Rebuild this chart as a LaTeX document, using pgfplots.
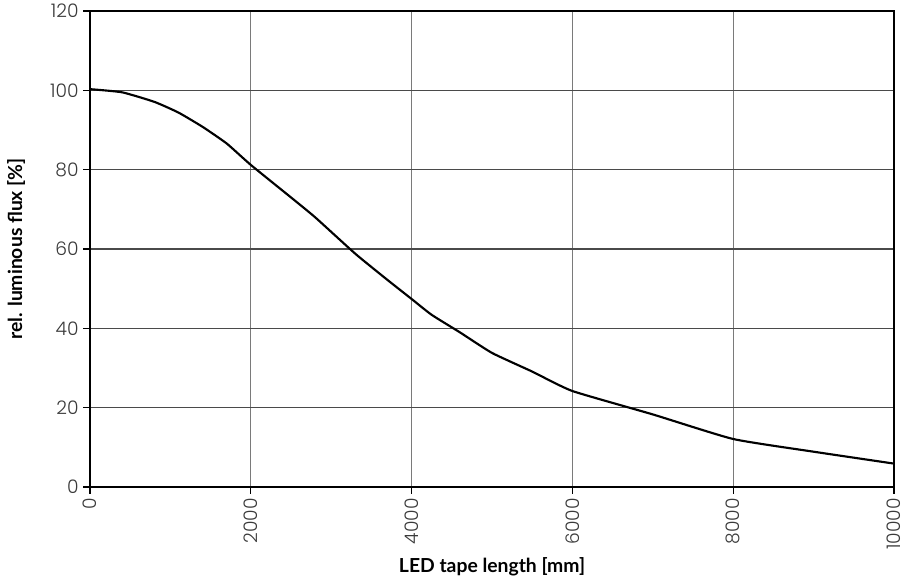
\documentclass[border=0pt]{standalone}
\usepackage{fontspec}
\setmainfont{Lato}
\newfontfamily\tickfont{Poppins Light}
\usepackage{pgfplots}
\pgfplotsset{compat=1.18}
\usetikzlibrary{calc}
\definecolor{xgrid}{HTML}{7A7A7A}
\definecolor{ygrid}{HTML}{4A4A4A}
\definecolor{ticktext}{HTML}{3A3A3A}
\begin{document}
\begin{tikzpicture}
\begin{axis}[
    scale only axis,
    width=603pt, height=357pt,
    xmin=0, xmax=10000, ymin=0, ymax=120,
    xtick={0,2000,...,10000},
    ytick={0,20,...,120},
    xtick pos=bottom, ytick pos=left,
    grid=major,
    x grid style={xgrid, line width=0.8pt},
    y grid style={ygrid, line width=0.8pt},
    axis line style={black, line width=0.9pt},
    tick style={black, line width=0.8pt},
    tick align=outside,
    major tick length=5pt,
    xticklabel style={rotate=90, anchor=east, font=\tickfont\fontsize{14}{16}\selectfont, text=ticktext},
    yticklabel style={font=\tickfont\fontsize{14}{16}\selectfont, text=ticktext},
    /pgf/number format/assume math mode=true,
    /pgf/number format/1000 sep={},
    scaled x ticks=false,
    xlabel={\bfseries LED tape length [mm]},
    ylabel={\bfseries rel. luminous flux [\%]},
    label style={font=\fontsize{14.5}{16}\selectfont},
    xlabel style={yshift=1pt},
    ylabel style={yshift=12pt},
    clip=false,
]
\addplot[black, line width=1.6pt, smooth, tension=0.3] coordinates {
    (0,100.3) (400,99.5) (800,97.1) (1100,94.4) (1400,90.8) (1700,86.6)
    (2000,81.2) (2500,73.0) (2800,68.0) (3300,58.8) (3700,52.2) (4000,47.4)
    (4250,43.4) (4600,39.0) (5000,33.8) (5500,29.1) (6000,24.2) (7000,18.3)
    (8000,12.1) (9000,8.9) (10000,5.9)
};
\end{axis}
\pgfresetboundingbox
\path ($(current axis.south west)+(-67.5pt,-69pt)$) rectangle ($(current axis.north east)+(9pt,8.25pt)$);
\end{tikzpicture}
\end{document}
